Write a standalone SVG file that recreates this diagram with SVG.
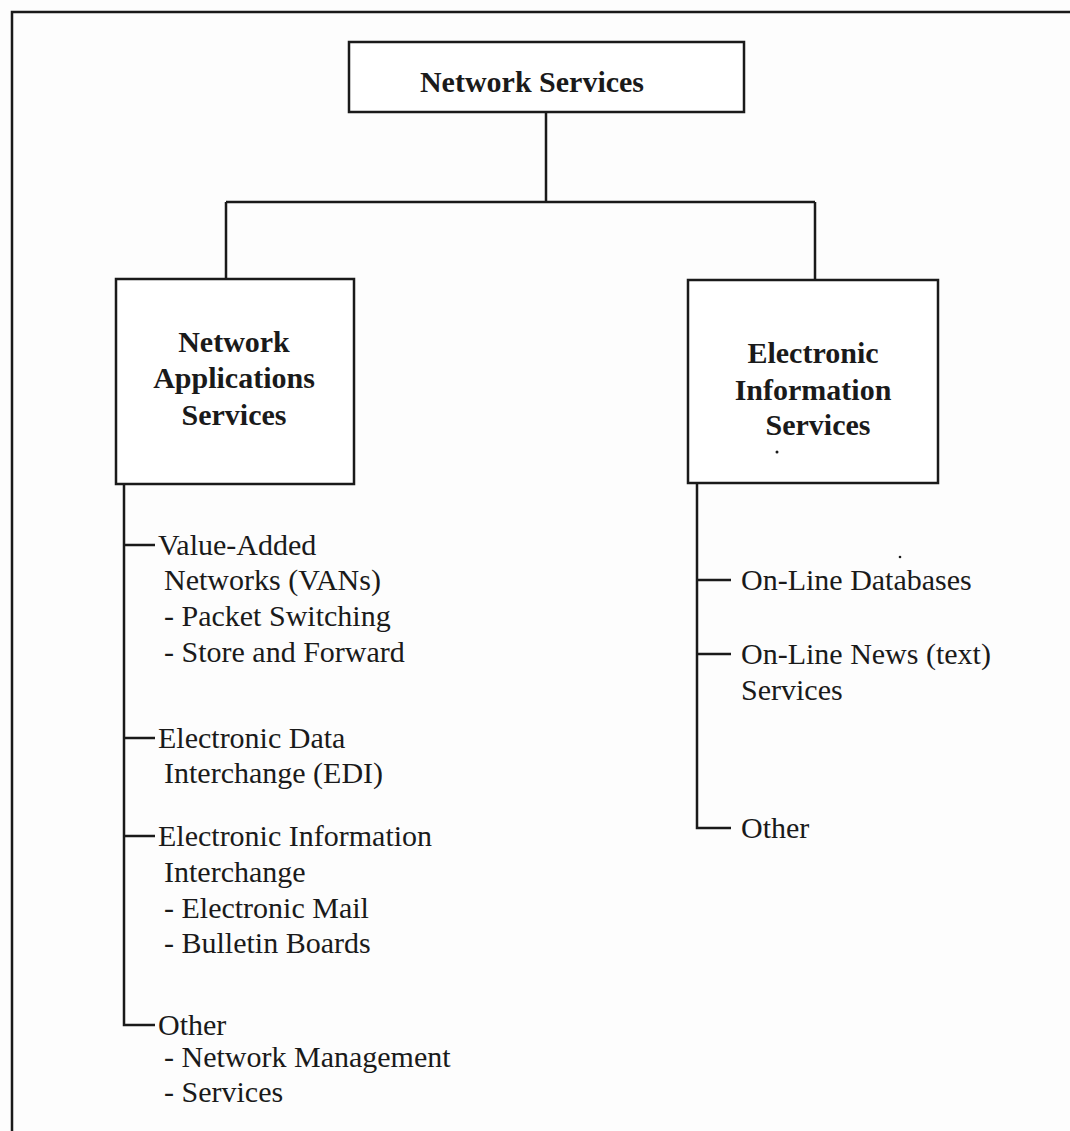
<svg xmlns="http://www.w3.org/2000/svg" width="1070" height="1131" viewBox="0 0 1070 1131">
<style>
.ln{stroke:#1a1a1a;stroke-width:2.5;fill:none}
.box{stroke:#1a1a1a;stroke-width:2.5;fill:#fff}
.h{font-family:"Liberation Serif","Times New Roman",serif;font-weight:bold;font-size:30px;fill:#1a1a1a;text-anchor:middle}
.t{font-family:"Liberation Serif","Times New Roman",serif;font-size:30px;fill:#1a1a1a}
</style>
<rect width="1070" height="1131" fill="#fdfdfd"/>
<path class="ln" d="M12,1131 V12 H1070"/>
<g id="connectors">
<path class="ln" d="M546,112 V202 M226,202 H815 M226,202 V279 M815,202 V280"/>
<path class="ln" d="M124,484 V1025 H155 M124,545 H155 M124,738 H155 M124,836 H155"/>
<path class="ln" d="M697,483 V828 H731 M697,580 H731 M697,654 H731"/>
</g>
<g id="network-services">
<rect class="box" x="349" y="42" width="395" height="70"/>
<text class="h" x="532" y="92">Network Services</text>
</g>
<g id="network-applications-services">
<rect class="box" x="116" y="279" width="238" height="205"/>
<text class="h" x="234" y="352">Network</text>
<text class="h" x="234" y="388">Applications</text>
<text class="h" x="234" y="425">Services</text>
</g>
<g id="electronic-information-services">
<rect class="box" x="688" y="280" width="250" height="203"/>
<text class="h" x="813" y="363">Electronic</text>
<text class="h" x="813" y="400">Information</text>
<text class="h" x="818" y="435">Services</text>
<circle cx="777" cy="452" r="1.5" fill="#1a1a1a"/>
</g>
<g id="vans">
<text class="t" x="158" y="555">Value-Added</text>
<text class="t" x="164" y="590">Networks (VANs)</text>
<text class="t" x="164" y="626">- Packet Switching</text>
<text class="t" x="164" y="662">- Store and Forward</text>
</g>
<g id="edi">
<text class="t" x="158" y="748">Electronic Data</text>
<text class="t" x="164" y="783">Interchange (EDI)</text>
</g>
<g id="eii">
<text class="t" x="158" y="846">Electronic Information</text>
<text class="t" x="164" y="882">Interchange</text>
<text class="t" x="164" y="918">- Electronic Mail</text>
<text class="t" x="164" y="953">- Bulletin Boards</text>
</g>
<g id="other-left">
<text class="t" x="158" y="1035">Other</text>
<text class="t" x="164" y="1067">- Network Management</text>
<text class="t" x="164" y="1102">- Services</text>
</g>
<g id="online-databases">
<text class="t" x="741" y="590">On-Line Databases</text>
<circle cx="900" cy="557" r="1.3" fill="#1a1a1a"/>
</g>
<g id="online-news">
<text class="t" x="741" y="664">On-Line News (text)</text>
<text class="t" x="741" y="700">Services</text>
</g>
<g id="other-right">
<text class="t" x="741" y="838">Other</text>
</g>
</svg>
